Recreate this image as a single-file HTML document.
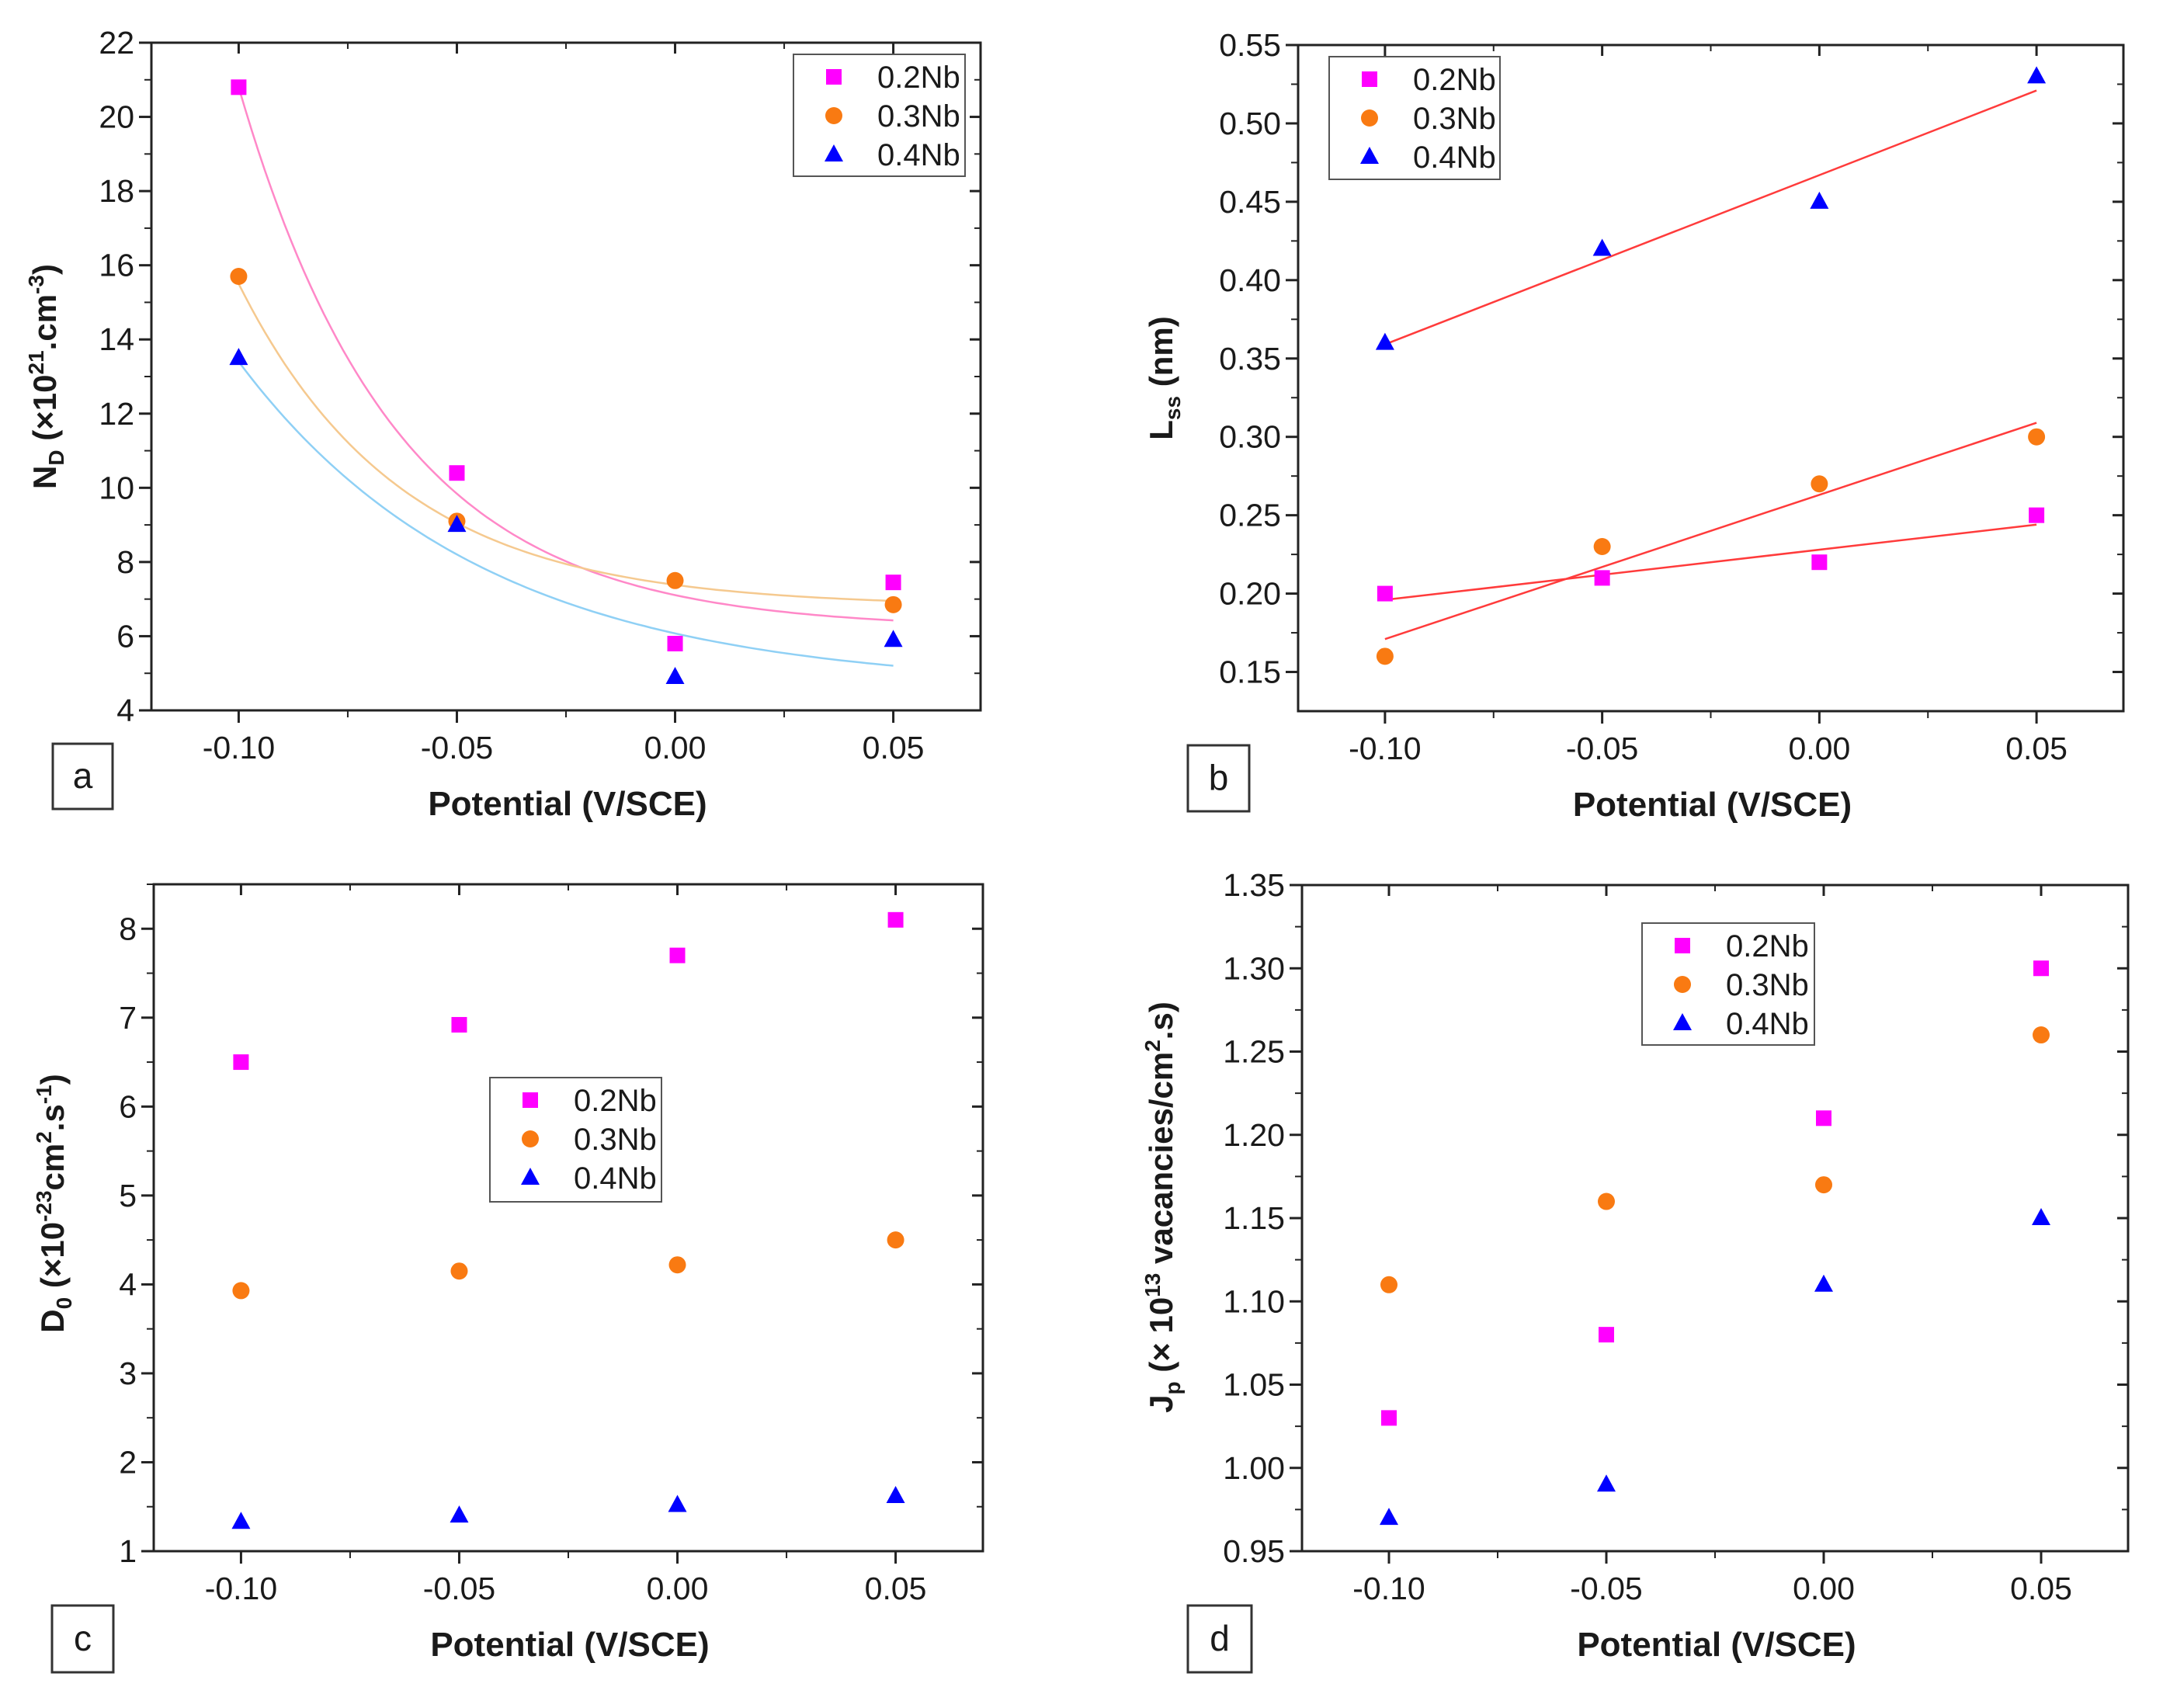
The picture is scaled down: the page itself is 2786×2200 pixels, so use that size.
<!DOCTYPE html>
<html><head><meta charset="utf-8"><style>
html,body{margin:0;padding:0;background:#fff}
svg{display:block}
text{font-family:"Liberation Sans",Arial,sans-serif;fill:#1a1a1a}
</style></head><body>
<svg id="fig" width="2786" height="2200" viewBox="0 0 2786 2200" xmlns="http://www.w3.org/2000/svg"></svg>
<script>
// ---- data ----
const potentials = [-0.10, -0.05, 0.00, 0.05];
const seriesNames = ["0.2Nb", "0.3Nb", "0.4Nb"];
// panel a: N_D
const aNb02 = [20.8, 10.4, 5.8, 7.45];
const aNb03 = [15.7, 9.1, 7.5, 6.85];
const aNb04 = [13.5, 9.0, 4.9, 5.9];
// exponential-decay fit parameters [y0, A, tau]
const aFit02 = [6.2, 14.6, 0.036];
const aFit03 = [6.8, 8.7, 0.037];
const aFit04 = [4.6, 8.8, 0.056];
const aTicks = [4, 6, 8, 10, 12, 14, 16, 18, 20, 22];
// panel b: L_ss
const bNb02 = [0.20, 0.21, 0.22, 0.25];
const bNb03 = [0.16, 0.23, 0.27, 0.30];
const bNb04 = [0.36, 0.42, 0.45, 0.53];
const bTicks = [0.15, 0.20, 0.25, 0.30, 0.35, 0.40, 0.45, 0.50, 0.55];
// panel c: D0
const cNb02 = [6.5, 6.92, 7.7, 8.1];
const cNb03 = [3.93, 4.15, 4.22, 4.5];
const cNb04 = [1.33, 1.40, 1.52, 1.62];
const cTicks = [1, 2, 3, 4, 5, 6, 7, 8];
// panel d: Jp
const dNb02 = [1.03, 1.08, 1.21, 1.30];
const dNb03 = [1.11, 1.16, 1.17, 1.26];
const dNb04 = [0.97, 0.99, 1.11, 1.15];
const dTicks = [0.95, 1.00, 1.05, 1.10, 1.15, 1.20, 1.25, 1.30, 1.35];
const xTicks = [-0.10, -0.05, 0.00, 0.05];
const xTickLabels = ["-0.10", "-0.05", "0.00", "0.05"];

const NS = "http://www.w3.org/2000/svg";
const svg = document.getElementById("fig");
function el(tag, attrs, parent) {
  const e = document.createElementNS(NS, tag);
  for (const k in attrs) e.setAttribute(k, attrs[k]);
  (parent || svg).appendChild(e);
  return e;
}
const COL = ["#ff00ff", "#f97a12", "#0000ff"];

function marker(g, kind, cx, cy) {
  let m;
  if (kind === 0) m = el("rect", {x: cx - 10, y: cy - 10, width: 20, height: 20, fill: COL[0]}, g);
  else if (kind === 1) m = el("circle", {cx: cx, cy: cy, r: 11, fill: COL[1]}, g);
  else m = el("polygon", {points: `${cx},${cy-13} ${cx+12},${cy+9} ${cx-12},${cy+9}`, fill: COL[2]}, g);
  return m;
}

function panel(cfg) {
  const g = el("g", {});
  
  
  const {L, R, T, B, ymin, ymax, yticks, ydec} = cfg;
  const xmin = -0.12, xmax = 0.07;
  const X = v => L + (v - xmin) / (xmax - xmin) * (R - L);
  const Y = v => B - (v - ymin) / (ymax - ymin) * (B - T);
  const frame = el("rect", {x: L, y: T, width: R - L, height: B - T, fill: "none", stroke: "#222", "stroke-width": 3}, g);
  
  
  const step = yticks[1] - yticks[0];
  for (let i = 0; i < yticks.length; i++) {
    const v = yticks[i], y = Y(v);
    el("line", {x1: L - 16, y1: y, x2: L, y2: y, stroke: "#222", "stroke-width": 3}, g);
    el("line", {x1: R - 14, y1: y, x2: R, y2: y, stroke: "#222", "stroke-width": 3}, g);
    const t = el("text", {x: L - 22, y: y + 14, "font-size": 41, "text-anchor": "end"}, g);
    t.textContent = v.toFixed(ydec);
    
    
    const mv = v + step / 2;
    if (mv <= ymax + 1e-9) {
      el("line", {x1: L - 9, y1: Y(mv), x2: L, y2: Y(mv), stroke: "#222", "stroke-width": 2}, g);
      el("line", {x1: R - 8, y1: Y(mv), x2: R, y2: Y(mv), stroke: "#222", "stroke-width": 2}, g);
    }
  }
  for (let i = 0; i < xTicks.length; i++) {
    const x = X(xTicks[i]);
    el("line", {x1: x, y1: B, x2: x, y2: B + 16, stroke: "#222", "stroke-width": 3}, g);
    el("line", {x1: x, y1: T, x2: x, y2: T + 14, stroke: "#222", "stroke-width": 3}, g);
    const t = el("text", {x: x, y: B + 62, "font-size": 41, "text-anchor": "middle"}, g);
    t.textContent = xTickLabels[i];
    
    
  }
  for (let v = -0.075; v < 0.07; v += 0.05) {
    el("line", {x1: X(v), y1: B, x2: X(v), y2: B + 9, stroke: "#222", "stroke-width": 2}, g);
    el("line", {x1: X(v), y1: T, x2: X(v), y2: T + 8, stroke: "#222", "stroke-width": 2}, g);
  }
  const xt = el("text", {x: (L + R) / 2 + 2, y: B + 135, "font-size": 44, "font-weight": "bold", "text-anchor": "middle"}, g);
  xt.textContent = "Potential (V/SCE)";
  
  
  const yt = el("text", {transform: `translate(${cfg.ytx},${cfg.yty}) rotate(-90)`, "font-size": 42, "font-weight": "bold", "text-anchor": "middle"}, g);
  yt.innerHTML = cfg.ytitle;
  
  
  if (cfg.fits) cfg.fits(g, X, Y);
  for (let s = 0; s < 3; s++) {
    for (let i = 0; i < potentials.length; i++) {
      const m = marker(g, s, X(potentials[i]), Y(cfg.series[s][i]));
      
      
    }
  }
  const lg = el("g", {}, g);
  
  
  const [lx, ly, lw, lh] = cfg.legend;
  el("rect", {x: lx, y: ly, width: lw, height: lh, fill: "#fff", stroke: "#555", "stroke-width": 2}, lg);
  for (let s = 0; s < 3; s++) {
    const cy = ly + 29 + s * 50;
    const m = marker(lg, s, lx + 52, cy);
    
    
    const t = el("text", {x: lx + 108, y: cy + 14, "font-size": 40}, lg);
    t.textContent = seriesNames[s];
    
    
  }
  const [px, py, pw, ph] = cfg.plabel;
  const pb = el("rect", {x: px, y: py, width: pw, height: ph, fill: "#fff", stroke: "#333", "stroke-width": 3}, g);
  
  
  const pt = el("text", {x: px + pw / 2, y: py + ph / 2 + 15, "font-size": 46, "text-anchor": "middle"}, g);
  pt.textContent = cfg.letter;
  
  
}

function expFit(g, X, Y, p, color) {
  let d = "";
  for (let k = 0; k <= 100; k++) {
    const x = -0.10 + 0.15 * k / 100;
    const y = p[0] + p[1] * Math.exp(-(x + 0.10) / p[2]);
    d += (k ? "L" : "M") + X(x).toFixed(1) + "," + Y(y).toFixed(1);
  }
  const pth = el("path", {d: d, fill: "none", stroke: color, "stroke-width": 2.5}, g);
  
  
}
function linFit(g, X, Y, ys) {
  const n = potentials.length;
  const mx = potentials.reduce((a, b) => a + b) / n, my = ys.reduce((a, b) => a + b) / n;
  let sxy = 0, sxx = 0;
  for (let i = 0; i < n; i++) { sxy += (potentials[i] - mx) * (ys[i] - my); sxx += (potentials[i] - mx) ** 2; }
  const b = sxy / sxx, a = my - b * mx;
  const ln = el("line", {x1: X(-0.10), y1: Y(a + b * -0.10), x2: X(0.05), y2: Y(a + b * 0.05), stroke: "#ff3b3b", "stroke-width": 2.5}, g);
  
  
}

panel({name: "panel-a", L: 195, R: 1263, T: 55, B: 915, ymin: 4, ymax: 22, yticks: aTicks, ydec: 0,
  series: [aNb02, aNb03, aNb04], letter: "a", plabel: [68, 958, 77, 84], legend: [1022, 70, 221, 157],
  ytx: 72, yty: 485, ytitle: 'N<tspan font-size="28" dy="10">D</tspan><tspan dy="-10"> (×10</tspan><tspan font-size="28" dy="-16">21</tspan><tspan dy="16">.cm</tspan><tspan font-size="28" dy="-16">-3</tspan><tspan dy="16">)</tspan>',
  fits: (g, X, Y) => { expFit(g, X, Y, aFit02, "#ff88c8"); expFit(g, X, Y, aFit03, "#f5c98f"); expFit(g, X, Y, aFit04, "#8fd0f5"); }});
panel({name: "panel-b", L: 1672, R: 2735, T: 58, B: 916, ymin: 0.125, ymax: 0.55, yticks: bTicks, ydec: 2,
  series: [bNb02, bNb03, bNb04], letter: "b", plabel: [1530, 960, 79, 85], legend: [1712, 73, 220, 158],
  ytx: 1510, yty: 487, ytitle: 'L<tspan font-size="28" dy="10">ss</tspan><tspan dy="-10"> (nm)</tspan>',
  fits: (g, X, Y) => { linFit(g, X, Y, bNb02); linFit(g, X, Y, bNb03); linFit(g, X, Y, bNb04); }});
panel({name: "panel-c", L: 198, R: 1266, T: 1139, B: 1998, ymin: 1, ymax: 8.5, yticks: cTicks, ydec: 0,
  series: [cNb02, cNb03, cNb04], letter: "c", plabel: [67, 2068, 79, 86], legend: [631, 1388, 221, 160],
  ytx: 82, yty: 1550, ytitle: 'D<tspan font-size="28" dy="10">0</tspan><tspan dy="-10"> (×10</tspan><tspan font-size="28" dy="-16">-23</tspan><tspan dy="16">cm</tspan><tspan font-size="28" dy="-16">2</tspan><tspan dy="16">.s</tspan><tspan font-size="28" dy="-16">-1</tspan><tspan dy="16">)</tspan>'});
panel({name: "panel-d", L: 1677, R: 2741, T: 1140, B: 1998, ymin: 0.95, ymax: 1.35, yticks: dTicks, ydec: 2,
  series: [dNb02, dNb03, dNb04], letter: "d", plabel: [1530, 2068, 82, 86], legend: [2115, 1189, 222, 157],
  ytx: 1510, yty: 1555, ytitle: 'J<tspan font-size="28" dy="10">p</tspan><tspan dy="-10"> (× 10</tspan><tspan font-size="28" dy="-16">13</tspan><tspan dy="16">  vacancies/cm</tspan><tspan font-size="28" dy="-16">2</tspan><tspan dy="16">.s)</tspan>'});
</script>
</body></html>
